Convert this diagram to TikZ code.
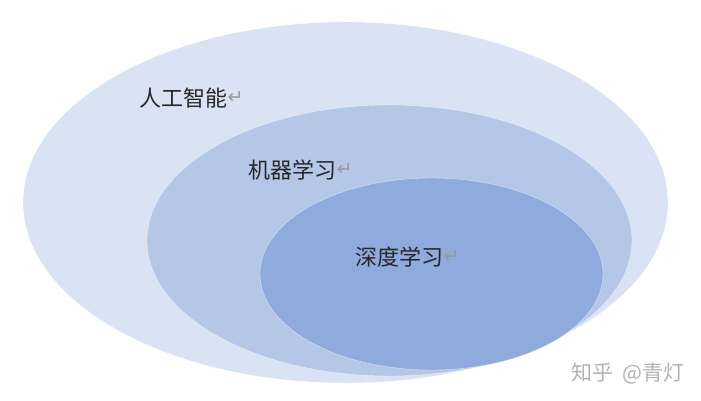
\documentclass[tikz,border=0pt]{standalone}
\usepackage{fontspec}
\usepackage{xcolor}
\newfontfamily\cjk{Noto Sans CJK SC}
\newfontfamily\symfont{DejaVu Sans}
\usetikzlibrary{positioning}
\definecolor{aiblue}{HTML}{DAE3F3}
\definecolor{mlblue}{HTML}{B4C7E7}
\definecolor{dlblue}{HTML}{8FAADC}
\tikzset{
	field/.style={draw=white, draw opacity=0.6, line width=0.4pt},
	label/.style={font=\cjk\fontsize{22}{26}\selectfont, text=black!85, inner sep=0pt, anchor=west},
	retmark/.style={font=\symfont\fontsize{19}{22}\selectfont, text=black!40, inner sep=0pt}
}
\begin{document}
\begin{tikzpicture}[x=1pt,y=-1pt]

			\useasboundingbox (0,0) rectangle (701,400);

			% Draw the three fields
			\fill[aiblue, field] (345.5,202.5) ellipse (322.5 and 180.5);
			\fill[mlblue, field] (389.5,240.5) ellipse (242.5 and 135.5);
			\fill[dlblue, field] (431.5,274) ellipse (171.5 and 96);

			% Draw the labels
			\node[label] (ai) at (139,98) {人工智能};
			\node[retmark, right=0pt of ai] (airet) {↵};
			\node[label] (ml) at (248,170) {机器学习};
			\node[retmark, right=0pt of ml] (mlret) {↵};
			\node[label] (dl) at (355,257) {深度学习};
			\node[retmark, right=0pt of dl] (dlret) {↵};

			% Draw the watermark
			\node[font=\cjk\fontsize{21}{25}\selectfont, text=black!30, anchor=west, inner sep=0pt] (mark) at (571,373) {知乎\hspace{9pt}@青灯};

		\end{tikzpicture}
\end{document}
